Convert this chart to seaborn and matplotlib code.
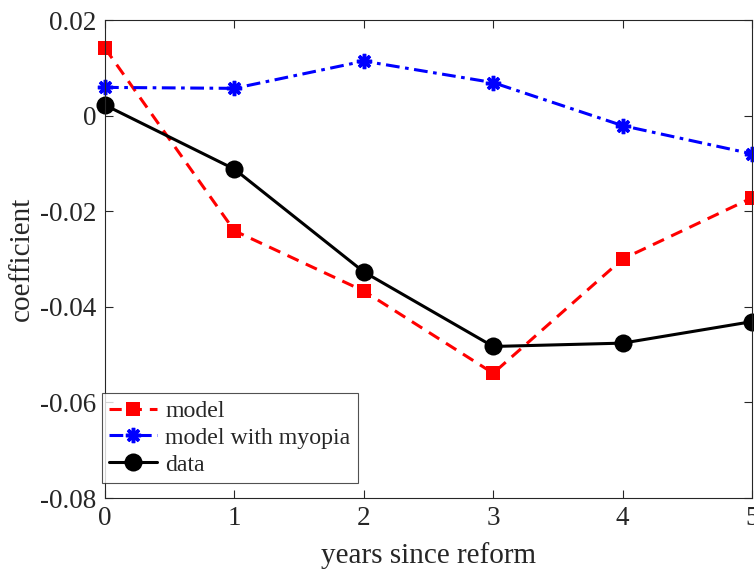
import matplotlib
matplotlib.use("Agg")
import matplotlib.pyplot as plt
import seaborn as sns
import pandas as pd

years = [0, 1, 2, 3, 4, 5]
model = [0.0141, -0.0241, -0.0367, -0.0539, -0.0300, -0.0172]
myopia = [0.0059, 0.0057, 0.0114, 0.0069, -0.0021, -0.0080]
data = [0.0022, -0.0112, -0.0327, -0.0483, -0.0476, -0.0431]

yticks = [-0.08, -0.06, -0.04, -0.02, 0, 0.02]
ytick_labels = ['-0.08', '-0.06', '-0.04', '-0.02', '0', '0.02']

sns.set_style("ticks")
plt.rcParams['font.family'] = ['Liberation Serif', 'DejaVu Serif']

df = pd.DataFrame({'year': years, 'model': model, 'myopia': myopia, 'data': data})

fig = plt.figure(figsize=(7.54, 5.69), dpi=100)
ax = fig.add_axes([105 / 754, 1 - 498 / 569, 647 / 754, 478 / 569])

sns.lineplot(data=df, x='year', y='model', ax=ax, color='red', dashes=(4, 2.6),
             linewidth=2.2, marker='s', markersize=10, markeredgewidth=0,
             clip_on=False)
sns.lineplot(data=df, x='year', y='myopia', ax=ax, color='blue',
             dashes=(4.5, 1.8, 1.2, 1.8),
             linewidth=2.2, marker=(8, 2, 0), markersize=11, markeredgewidth=2.5,
             markeredgecolor='blue', clip_on=False)
sns.lineplot(data=df, x='year', y='data', ax=ax, color='black', linestyle='-',
             linewidth=2.2, marker='o', markersize=13, markeredgewidth=0,
             clip_on=False)

ax.set_xlim(0, 5)
ax.set_ylim(-0.08, 0.02)
ax.set_xticks(years)
ax.set_yticks(yticks)
ax.set_yticklabels(ytick_labels)
ax.tick_params(direction='in', top=True, right=True, length=6, width=0.8,
               labelsize=19.5, colors='#262626', pad=6)
for s in ax.spines.values():
    s.set_visible(True)
    s.set_linewidth(0.8)
    s.set_color('#262626')

ax.set_xlabel('years since reform', fontsize=21, color='#262626')
ax.set_ylabel('coefficient', fontsize=21, color='#262626')
ax.xaxis.set_label_coords(0.5, -0.092, transform=ax.transAxes)
ax.xaxis.label.set_va('top')
ax.yaxis.set_label_coords((22 - 105) / 647, 0.5)
ax.yaxis.label.set_va('center')

handles = ax.get_lines()[:3]
leg = ax.legend(handles, ['model', 'model with myopia', 'data'],
                loc='lower left', bbox_to_anchor=(102 / 754, 1 - 483 / 569),
                bbox_transform=fig.transFigure, fontsize=17.2, frameon=True,
                fancybox=False, edgecolor='#262626', borderpad=0.3,
                labelspacing=0.22, handlelength=2.0, handletextpad=0.35,
                borderaxespad=0)
leg.get_frame().set_linewidth(0.8)

fig.savefig('out.png', dpi=100)
